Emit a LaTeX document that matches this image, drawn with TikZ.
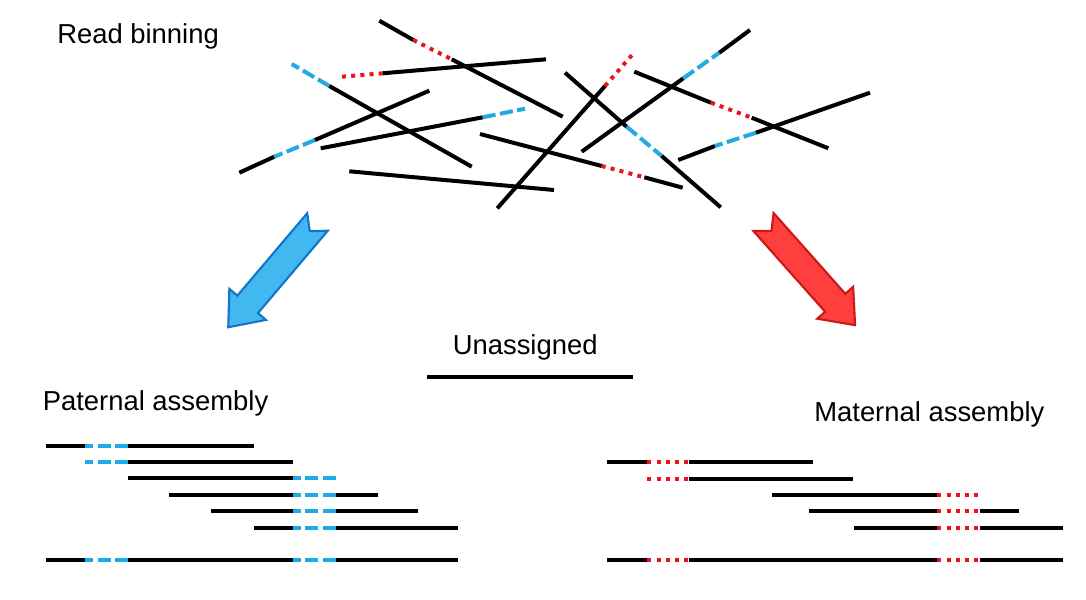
\documentclass[tikz,border=0pt]{standalone}
\usepackage{fontspec}
\setmainfont{Liberation Sans}
\definecolor{patblue}{RGB}{36,170,226}
\definecolor{matred}{RGB}{236,20,28}
\definecolor{arrblue}{RGB}{66,184,240}
\definecolor{arrblueline}{RGB}{18,118,200}
\definecolor{arrred}{RGB}{255,62,62}
\definecolor{arrredline}{RGB}{205,24,24}
\begin{document}
\begin{tikzpicture}[x=0.025cm, y=-0.025cm,
  rd/.style={line width=2.85pt, black},
  pa/.style={line width=2.85pt, patblue, dash pattern=on 9.3pt off 3.2pt},
  ma/.style={line width=2.85pt, matred, dash pattern=on 2.85pt off 3.7pt},
  lbl/.style={anchor=base west, inner sep=0pt, font=\fontsize{19.5}{23}\selectfont}]
\useasboundingbox (0, 0) rectangle (1086, 599);
% labels
\node [lbl] (binning) at (57, 43.5) {Read binning};
\node [lbl] (unassigned) at (452.5, 354.5) {Unassigned};
\node [lbl] (paternal) at (42.5, 410.5) {Paternal assembly};
\node [lbl] (maternal) at (814, 421.5) {Maternal assembly};
% reads before binning
\draw [rd] (379.3, 20.7) -- (413.3, 40);
\draw [ma] (413.3, 40) -- (451.7, 59.3);
\draw [rd] (451.7, 59.3) -- (562.7, 116.7);
\draw [ma] (382.7, 73.3) -- (341.7, 76.7);
\draw [rd] (382.7, 73.3) -- (546, 59.3);
\draw [pa] (329.3, 86) -- (291.7, 64);
\draw [rd] (329.3, 86) -- (471.7, 166.7);
\draw [rd] (239.3, 172.7) -- (274.3, 156.7);
\draw [pa] (315, 140) -- (274.3, 156.7);
\draw [rd] (315, 140) -- (429.3, 90.7);
\draw [rd] (320.7, 148.3) -- (482.7, 117.3);
\draw [pa] (482.7, 117.3) -- (525, 108.7);
\draw [rd] (349.3, 171.3) -- (554, 190);
\draw [rd] (480, 134) -- (601.7, 166);
\draw [ma] (601.7, 166) -- (644.3, 177.3);
\draw [rd] (644.3, 177.3) -- (682.7, 187.7);
\draw [rd] (497.3, 208.3) -- (605, 86);
\draw [ma] (605, 86) -- (634, 52.7);
\draw [rd] (565, 72.7) -- (626.7, 126.7);
\draw [pa] (626.7, 126.7) -- (661.7, 156);
\draw [rd] (661.7, 156) -- (720.7, 207.3);
\draw [rd] (581.7, 151.7) -- (683.3, 78.3);
\draw [pa] (683.3, 78.3) -- (719.3, 52.7);
\draw [rd] (719.3, 52.7) -- (750, 30);
\draw [rd] (634.3, 71.7) -- (711, 102.7);
\draw [ma] (711, 102.7) -- (751.7, 117.7);
\draw [rd] (751.7, 117.7) -- (828.3, 148.3);
\draw [rd] (678.3, 160) -- (715, 146);
\draw [pa] (756, 132.7) -- (715, 146);
\draw [rd] (756, 132.7) -- (870, 92.7);
% binning arrows
\begin{scope}[shift={(317.5, 222)}, rotate=229.7]
\draw [line width=1.5pt, line join=miter, draw=arrblueline, fill=arrblue] (0, 13.5) -- (108, 13.5) -- (108, 24) -- (138, 0) -- (108, -24) -- (108, -13.5) -- (0, -13.5) -- (12, 0) -- cycle;
\end{scope}
\begin{scope}[shift={(763.5, 222)}, rotate=-48.4]
\draw [line width=1.5pt, line join=miter, draw=arrredline, fill=arrred] (0, 13.5) -- (108, 13.5) -- (108, 24) -- (138, 0) -- (108, -24) -- (108, -13.5) -- (0, -13.5) -- (12, 0) -- cycle;
\end{scope}
% unassigned read
\draw [rd] (427.3, 377.3) -- (633.3, 377.3);
% paternal reads
\draw [rd] (45.7, 446) -- (85, 446);
\draw [pa] (128.3, 446) -- (85, 446);
\draw [rd] (128.3, 446) -- (254, 446);
\draw [pa] (128.3, 462) -- (85, 462);
\draw [rd] (128.3, 462) -- (293.3, 462);
\draw [rd] (128.3, 478) -- (293.3, 478);
\draw [pa] (336, 478) -- (293.3, 478);
\draw [rd] (169.3, 495) -- (293.3, 495);
\draw [pa] (336, 495) -- (293.3, 495);
\draw [rd] (336, 495) -- (377.7, 495);
\draw [rd] (210.7, 511) -- (293.3, 511);
\draw [pa] (336, 511) -- (293.3, 511);
\draw [rd] (336, 511) -- (418.3, 511);
\draw [rd] (254, 528) -- (293.3, 528);
\draw [pa] (336, 528) -- (293.3, 528);
\draw [rd] (336, 528) -- (458.3, 528);
\draw [rd] (45.7, 560) -- (85, 560);
\draw [pa] (128.3, 560) -- (85, 560);
\draw [rd] (128.3, 560) -- (293.3, 560);
\draw [pa] (336, 560) -- (293.3, 560);
\draw [rd] (336, 560) -- (458.3, 560);
% maternal reads
\draw [rd] (606.7, 462) -- (647.3, 462);
\draw [ma] (647.3, 462) -- (689.3, 462);
\draw [rd] (689.3, 462) -- (813.3, 462);
\draw [ma] (647.3, 479) -- (689.3, 479);
\draw [rd] (689.3, 479) -- (853.3, 479);
\draw [rd] (771.7, 495) -- (937.3, 495);
\draw [ma] (937.3, 495) -- (980, 495);
\draw [rd] (809, 511) -- (937.3, 511);
\draw [ma] (937.3, 511) -- (980, 511);
\draw [rd] (980, 511) -- (1019.3, 511);
\draw [rd] (854, 528) -- (937.3, 528);
\draw [ma] (937.3, 528) -- (980, 528);
\draw [rd] (980, 528) -- (1063, 528);
\draw [rd] (606.7, 560) -- (647.3, 560);
\draw [ma] (647.3, 560) -- (689.3, 560);
\draw [rd] (689.3, 560) -- (937.3, 560);
\draw [ma] (937.3, 560) -- (980, 560);
\draw [rd] (980, 560) -- (1063, 560);
\end{tikzpicture}
\end{document}
